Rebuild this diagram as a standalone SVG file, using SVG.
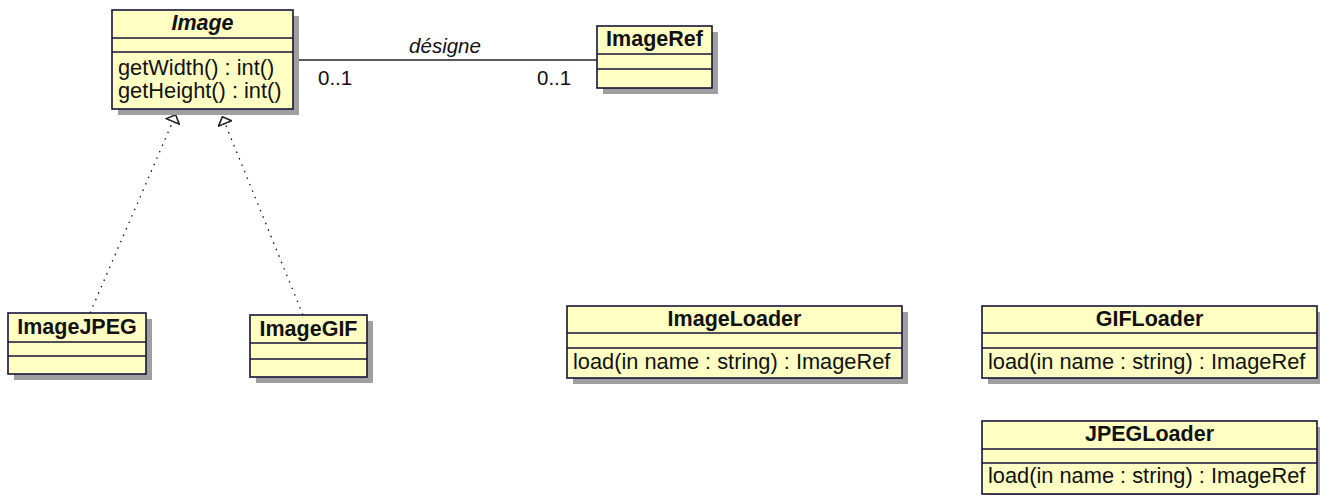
<svg xmlns="http://www.w3.org/2000/svg" width="1320" height="495" viewBox="0 0 1320 495">
<style>
.shadow{fill:#9f9f9f}
.box{fill:#ffffc4;stroke:#14143a;stroke-width:1.6}
.sep{stroke:#14143a;stroke-width:1.6}
.title{font-family:"Liberation Sans",Arial,sans-serif;font-size:21.5px;font-weight:bold;fill:#111;text-anchor:middle}
.op{font-family:"Liberation Sans",Arial,sans-serif;font-size:21.8px;fill:#111}
.lbl{font-family:"Liberation Sans",Arial,sans-serif;font-size:20.5px;fill:#111}
.assoc{stroke:#5a5a5a;stroke-width:2;fill:none}
.real{stroke:#111;stroke-width:1.3;stroke-dasharray:1.5 5.5;fill:none}
</style>
<defs>
<marker id="tri" viewBox="0 0 9 16" refX="9" refY="8" markerWidth="9" markerHeight="16" markerUnits="userSpaceOnUse" orient="auto">
<path d="M0.9,0.9 L8.1,8 L0.9,15.1 z" fill="#fff" stroke="#222" stroke-width="1.6"/>
</marker>
</defs>

<g id="connectors">
<line class="assoc" x1="293" y1="60" x2="597" y2="60"/>
<text class="lbl" x="445" y="53" text-anchor="middle" font-style="italic">désigne</text>
<text class="lbl" x="318" y="85">0..1</text>
<text class="lbl" x="537" y="85">0..1</text>
<path class="real" d="M90,313 L176,114" marker-end="url(#tri)"/>
<path class="real" d="M303,315 L222,116" marker-end="url(#tri)"/>
</g>

<g id="Image">
<rect class="shadow" x="118" y="16" width="181" height="99"/>
<rect class="box" x="112" y="10" width="181" height="99"/>
<line class="sep" x1="112" y1="38" x2="293" y2="38"/>
<line class="sep" x1="112" y1="52" x2="293" y2="52"/>
<text class="title" x="202.5" y="30" font-style="italic">Image</text>
<text class="op" x="118" y="75">getWidth() : int()</text>
<text class="op" x="118" y="98">getHeight() : int()</text>
</g>

<g id="ImageRef">
<rect class="shadow" x="603" y="32" width="115" height="62"/>
<rect class="box" x="597" y="26" width="115" height="62"/>
<line class="sep" x1="597" y1="54" x2="712" y2="54"/>
<line class="sep" x1="597" y1="69" x2="712" y2="69"/>
<text class="title" x="654.5" y="46">ImageRef</text>
</g>

<g id="ImageJPEG">
<rect class="shadow" x="14" y="319" width="138" height="61"/>
<rect class="box" x="8" y="313" width="138" height="61"/>
<line class="sep" x1="8" y1="342" x2="146" y2="342"/>
<line class="sep" x1="8" y1="356" x2="146" y2="356"/>
<text class="title" x="77" y="334">ImageJPEG</text>
</g>

<g id="ImageGIF">
<rect class="shadow" x="256" y="321" width="117" height="62"/>
<rect class="box" x="250" y="315" width="117" height="62"/>
<line class="sep" x1="250" y1="343" x2="367" y2="343"/>
<line class="sep" x1="250" y1="359" x2="367" y2="359"/>
<text class="title" x="308.5" y="336">ImageGIF</text>
</g>

<g id="ImageLoader">
<rect class="shadow" x="573" y="312" width="335" height="72"/>
<rect class="box" x="567" y="306" width="335" height="72"/>
<line class="sep" x1="567" y1="333" x2="902" y2="333"/>
<line class="sep" x1="567" y1="348" x2="902" y2="348"/>
<text class="title" x="734.5" y="326">ImageLoader</text>
<text class="op" x="573" y="369">load(in name : string) : ImageRef</text>
</g>

<g id="GIFLoader">
<rect class="shadow" x="988" y="312" width="335" height="72"/>
<rect class="box" x="982" y="306" width="335" height="72"/>
<line class="sep" x1="982" y1="333" x2="1317" y2="333"/>
<line class="sep" x1="982" y1="348" x2="1317" y2="348"/>
<text class="title" x="1149.5" y="326">GIFLoader</text>
<text class="op" x="988" y="369">load(in name : string) : ImageRef</text>
</g>

<g id="JPEGLoader">
<rect class="shadow" x="988" y="427" width="335" height="73"/>
<rect class="box" x="982" y="421" width="335" height="73"/>
<line class="sep" x1="982" y1="449" x2="1317" y2="449"/>
<line class="sep" x1="982" y1="463" x2="1317" y2="463"/>
<text class="title" x="1149.5" y="441">JPEGLoader</text>
<text class="op" x="988" y="483">load(in name : string) : ImageRef</text>
</g>
</svg>
